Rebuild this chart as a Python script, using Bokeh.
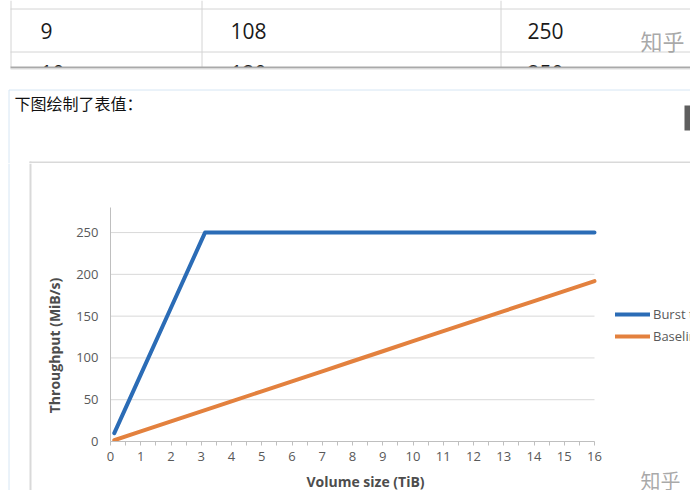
from bokeh.plotting import figure
from bokeh.models import Range1d, Legend, LegendItem, FixedTicker
from bokeh.layouts import column, row
from bokeh.embed import file_html
from bokeh.resources import INLINE
from bokeh.core.properties import value

# ---------------- data ----------------
sizes = [0.125, 1, 2, 3, 3.125, 4, 5, 6, 7, 8, 9, 10, 11, 12, 13, 14, 15, 16]
burst = [10, 80, 160, 240, 250, 250, 250, 250, 250, 250, 250, 250, 250, 250, 250, 250, 250, 250]
baseline = [1.5, 12, 24, 36, 37.5, 48, 60, 72, 84, 96, 108, 120, 132, 144, 156, 168, 180, 192]
x_ticks = [0, 1, 2, 3, 4, 5, 6, 7, 8, 9, 10, 11, 12, 13, 14, 15, 16]
y_ticks = [0, 50, 100, 150, 200, 250]
series_names = ["Burst throughput", "Baseline throughput"]
x_title = "Volume size (TiB)"
y_title = "Throughput (MiB/s)"
table_row = ["9", "108", "250"]
table_next_row = ["10", "120", "250"]
caption = "下图绘制了表值："
watermark = "知乎"

BLUE = "#2b6cb6"
ORANGE = "#e3813e"
GREY_TXT = "#595959"
TITLE_TXT = "#4d4d4d"
FONT = "Open Sans"
CJK = "Noto Sans CJK SC"
BOX_BLUE = "#d6e6f4"
BOX_GREY = "#d9d9d9"


def deco_fig(w, h, x0, x1, y0, y1):
    f = figure(width=w, height=h, x_range=Range1d(x0, x1), y_range=Range1d(y1, y0),
               output_backend="svg", toolbar_location=None, min_border=0,
               x_axis_location=None, y_axis_location=None, frame_align=False)
    f.grid.visible = False
    f.outline_line_color = None
    f.background_fill_color = "white"
    f.border_fill_color = "white"
    return f


# ---------------- top page fragment (table + caption) ----------------
top = deco_fig(690, 163, 0, 690, 0, 163)
top.text(x=[40, 230, 527], y=[72, 72, 72], text=table_next_row, text_font=value(FONT),
         text_font_size="21px", text_baseline="middle", text_align="left", text_color="#1a1a1a")
top.quad(left=[0], right=[690], top=[67.5], bottom=[88], fill_color="white", line_color=None)
top.segment(x0=[10.5, 201.5, 500.5], y0=[0, 0, 0], x1=[10.5, 201.5, 500.5], y1=[67, 67, 67],
            line_color="#d4d4d4", line_width=1)
top.segment(x0=[10, 10], y0=[8.5, 51.5], x1=[690, 690], y1=[8.5, 51.5],
            line_color="#d4d4d4", line_width=1)
top.segment(x0=[10], y0=[67], x1=[690], y1=[67], line_color="#a9a9a9", line_width=2)
top.segment(x0=[10], y0=[68.5], x1=[690], y1=[68.5], line_color="#dedede", line_width=1)
top.text(x=[40, 230, 527], y=[30, 30, 30], text=table_row, text_font=value(FONT),
         text_font_size="21px", text_baseline="middle", text_align="left", text_color="#1a1a1a")
top.text(x=[640], y=[39], text=[watermark], text_font=value(CJK),
         text_font_size="22px", text_baseline="middle", text_align="left",
         text_color="#9a9a9a", text_alpha=0.85)
top.segment(x0=[8.5], y0=[89.5], x1=[690], y1=[89.5], line_color=BOX_BLUE, line_width=1)
top.segment(x0=[8.5], y0=[89.5], x1=[8.5], y1=[163], line_color=BOX_BLUE, line_width=1)
top.text(x=[14], y=[102], text=[caption], text_font=value(CJK),
         text_font_size="16px", text_baseline="middle", text_align="left", text_color="#111111")
top.quad(left=[684], right=[700], top=[105], bottom=[130], fill_color="#5f5f5f", line_color=None)
top.segment(x0=[29], y0=[162], x1=[690], y1=[162], line_color=BOX_GREY, line_width=2)
top.segment(x0=[30], y0=[161], x1=[30], y1=[163], line_color=BOX_GREY, line_width=2)

# ---------------- left strip (box borders + y title) ----------------
left = deco_fig(66, 327, 0, 66, 163, 490)
left.segment(x0=[8.5], y0=[163], x1=[8.5], y1=[490], line_color=BOX_BLUE, line_width=1)
left.segment(x0=[30], y0=[163], x1=[30], y1=[490], line_color=BOX_GREY, line_width=2)
left.text(x=[54], y=[345], text=[y_title], angle=1.5707963, text_font=value(FONT),
          text_font_size="14px", text_font_style="bold", text_color=TITLE_TXT,
          text_align="center", text_baseline="middle")

# ---------------- chart ----------------
frame_w = 580
data_w = 484
p = figure(width=624, height=307, x_range=Range1d(0, 16 * frame_w / data_w), y_range=Range1d(0, 280),
           output_backend="svg", toolbar_location=None, frame_align=False,
           min_border_left=44, min_border_right=0, min_border_top=44, min_border_bottom=29)
p.outline_line_color = None
p.background_fill_color = "white"
p.border_fill_color = "white"

p.xgrid.visible = False
p.ygrid.visible = False
p.segment(x0=[x_ticks[0]] * len(y_ticks), y0=y_ticks, x1=[x_ticks[-1]] * len(y_ticks), y1=y_ticks,
          line_color=BOX_GREY, line_width=1, level="underlay")

p.xaxis.ticker = FixedTicker(ticks=x_ticks, minor_ticks=[t + 0.5 for t in x_ticks[:-1]])
p.yaxis.ticker = FixedTicker(ticks=y_ticks)
p.xaxis.bounds = (x_ticks[0], x_ticks[-1])

for ax in (p.xaxis, p.yaxis):
    ax.axis_line_color = "#bfbfbf"
    ax.axis_line_width = 1
    ax.major_tick_line_color = "#bfbfbf"
    ax.minor_tick_line_color = "#bfbfbf"
    ax.major_tick_in = 0
    ax.minor_tick_in = 0
    ax.major_label_text_font = FONT
    ax.major_label_text_font_size = "13px"
    ax.major_label_text_color = GREY_TXT

p.xaxis.major_tick_out = 4
p.xaxis.minor_tick_out = 4
p.xaxis.major_label_standoff = 6
p.yaxis.major_tick_out = 0
p.yaxis.minor_tick_out = 0
p.yaxis.major_label_standoff = 12

r1 = p.line(sizes, burst, line_color=BLUE, line_width=4, line_cap="round", line_join="round")
r2 = p.line(sizes, baseline, line_color=ORANGE, line_width=4, line_cap="round", line_join="round")

legend = Legend(items=[LegendItem(label=series_names[0], renderers=[r1]),
                       LegendItem(label=series_names[1], renderers=[r2])],
                location=(505, 95), orientation="vertical", padding=0, margin=0, spacing=2,
                glyph_width=35, glyph_height=20, label_height=20, label_standoff=3,
                border_line_color=None, background_fill_alpha=0,
                label_text_font=FONT, label_text_font_size="13px", label_text_color=GREY_TXT)
p.add_layout(legend)

# ---------------- bottom strip (x title + watermark) ----------------
bottom = deco_fig(624, 20, 66, 690, 470, 490)
bottom.text(x=[365], y=[480.5], text=[x_title], text_font=value(FONT),
            text_font_size="14px", text_font_style="bold", text_color=TITLE_TXT,
            text_align="center", text_baseline="middle")
bottom.text(x=[640], y=[480], text=[watermark], text_font=value(CJK),
            text_font_size="20px", text_baseline="middle", text_align="left",
            text_color="#9a9a9a", text_alpha=0.85)

layout = column(top, row(left, column(p, bottom, spacing=0), spacing=0), spacing=0)

open("out.html", "w").write(file_html(layout, INLINE))
